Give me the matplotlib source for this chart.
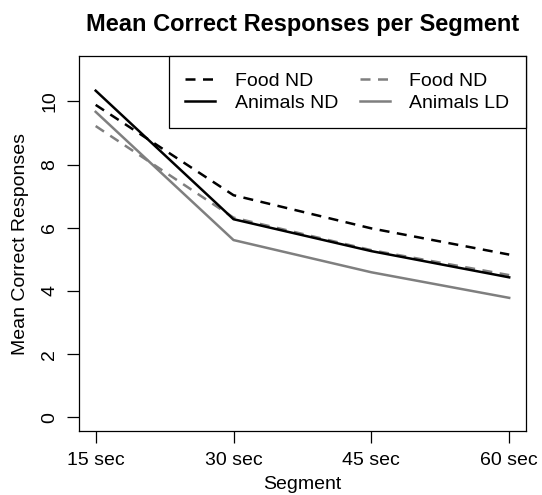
import numpy as np
import matplotlib.pyplot as plt
from matplotlib.lines import Line2D

plt.rcParams['font.family'] = ['Liberation Sans', 'DejaVu Sans']

segments = ['15 sec', '30 sec', '45 sec', '60 sec']
food_nd = [9.89, 7.03, 5.98, 5.15]
animals_nd = [10.34, 6.27, 5.26, 4.43]
food_nd_gray = [9.22, 6.32, 5.29, 4.50]
animals_ld = [9.67, 5.61, 4.59, 3.78]

gray = '#7f7f7f'
lw = 1.8
dash = (4, 3)
x = np.arange(1, len(segments) + 1)

fig = plt.figure(figsize=(5.42, 4.95), dpi=100)
ax = fig.add_axes([0.146, 0.129, 0.824, 0.758])

ax.plot(x, food_nd, color='black', lw=lw, dashes=dash)
ax.plot(x, food_nd_gray, color=gray, lw=lw, dashes=dash)
ax.plot(x, animals_ld, color=gray, lw=lw)
ax.plot(x, animals_nd, color='black', lw=lw)

ax.set_xlim(0.88, 4.12)
ax.set_ylim(-0.44, 11.44)
ax.set_xticks(x)
ax.set_xticklabels(segments)
ax.set_yticks([0, 2, 4, 6, 8, 10])
ax.set_yticklabels(['0', '2', '4', '6', '8', '10'], rotation=90, va='center')
ax.tick_params(direction='out', length=8.7, width=0.9, labelsize=14, pad=6.5)
for s in ax.spines.values():
    s.set_linewidth(0.9)

ax.set_xlabel('Segment', fontsize=14, labelpad=5)
ax.set_ylabel('Mean Correct Responses', fontsize=14, labelpad=9)
ax.set_title('Mean Correct Responses per Segment', fontsize=17, fontweight='bold', pad=18)

handles = [Line2D([], [], color='black', lw=lw, dashes=dash),
           Line2D([], [], color='black', lw=lw),
           Line2D([], [], color=gray, lw=lw, dashes=dash),
           Line2D([], [], color=gray, lw=lw)]
labels = ['Food ND', 'Animals ND', 'Food ND', 'Animals LD']
leg = ax.legend(handles, labels, ncol=2, loc='upper right', bbox_to_anchor=(1, 1),
                borderaxespad=0, fontsize=14, fancybox=False, edgecolor='black',
                framealpha=1, handlelength=1.55, columnspacing=1.1, labelspacing=0.2,
                borderpad=0.85, handletextpad=1.0)
leg.get_frame().set_linewidth(0.9)

fig.savefig('out.png', dpi=100)
